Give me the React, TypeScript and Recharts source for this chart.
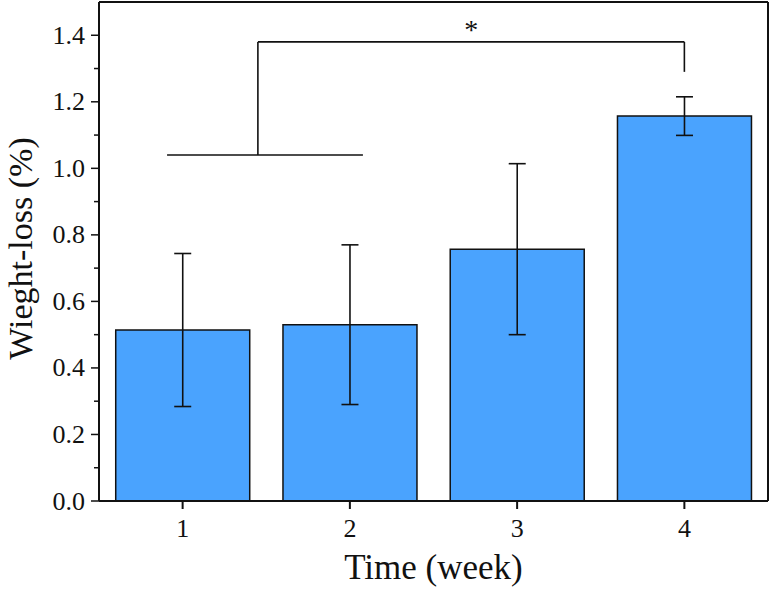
import React from "react";
import {
  BarChart,
  Bar,
  XAxis,
  YAxis,
  ErrorBar,
  ReferenceLine,
  ReferenceDot,
} from "recharts";

const weeks = [1, 2, 3, 4];
const weightLoss = [0.514, 0.53, 0.757, 1.157];
const stdDev = [0.23, 0.24, 0.257, 0.058];

const yMajorTicks = [0, 0.2, 0.4, 0.6, 0.8, 1.0, 1.2, 1.4];
const yMinorTicks = [0.1, 0.3, 0.5, 0.7, 0.9, 1.1, 1.3];

// significance bracket, in week / value units
const groupLineX = [0.907, 2.078];
const groupLineY = 1.04;
const bracketX = [1.45, 4.0];
const bracketTopY = 1.38;
const bracketEndY = 1.29;
const starX = 2.725;
const starY = 1.42;

const data = weeks.map((w, i) => ({
  week: w,
  value: weightLoss[i],
  err: stdDev[i],
}));

const FONT = "'Liberation Serif', 'Times New Roman', serif";
const INK = "#111";

const YTick = (props: any) => {
  const { x, y, payload } = props;
  const major = yMajorTicks.some((t) => Math.abs(t - payload.value) < 1e-6);
  return (
    <g>
      <line x1={x} y1={y} x2={x - (major ? 8 : 5)} y2={y} stroke={INK} strokeWidth={1.5} />
      {major && (
        <text
          x={x - 14}
          y={y}
          textAnchor="end"
          dominantBaseline="central"
          fontSize={26}
          fontFamily={FONT}
          fill={INK}
        >
          {payload.value.toFixed(1)}
        </text>
      )}
    </g>
  );
};

const YTitle = (props: any) => {
  const { viewBox } = props;
  const cx = 32;
  const cy = viewBox.y + viewBox.height / 2 - 3;
  return (
    <text
      x={cx}
      y={cy}
      transform={`rotate(-90, ${cx}, ${cy})`}
      textAnchor="middle"
      fontSize={34}
      fontFamily={FONT}
      fill={INK}
    >
      Wieght-loss (%)
    </text>
  );
};

export default function App() {
  const seg = (x1: number, y1: number, x2: number, y2: number) => (
    <ReferenceLine
      xAxisId="pos"
      segment={[
        { x: x1, y: y1 },
        { x: x2, y: y2 },
      ]}
      stroke={INK}
      strokeWidth={1.6}
      ifOverflow="visible"
    />
  );

  return (
    <div style={{ position: "absolute", left: 0, top: 0, background: "#fff" }}>
      <BarChart
        width={770}
        height={591}
        data={data}
        margin={{ top: 2, right: 2, bottom: 0, left: 0 }}
        barCategoryGap="10%"
      >
        <XAxis
          dataKey="week"
          height={90}
          stroke={INK}
          strokeWidth={2}
          tickSize={8}
          tickMargin={10}
          tick={{ fontSize: 26, fontFamily: FONT, fill: INK }}
          label={{
            value: "Time (week)",
            position: "insideBottom",
            offset: 12,
            fontSize: 35,
            fontFamily: FONT,
            fill: INK,
          }}
        />
        <XAxis
          xAxisId="pos"
          dataKey="week"
          type="number"
          domain={[0.5, 4.5]}
          allowDataOverflow
          hide
        />
        <YAxis
          width={99}
          domain={[0, 1.5]}
          ticks={[...yMajorTicks, ...yMinorTicks].sort((a, b) => a - b)}
          interval={0}
          stroke={INK}
          strokeWidth={2}
          tickLine={false}
          tickSize={0}
          tickMargin={0}
          tick={<YTick />}
          label={<YTitle />}
        />
        <ReferenceLine y={1.5} stroke={INK} strokeWidth={2} ifOverflow="visible" />
        <ReferenceLine xAxisId="pos" x={4.5} stroke={INK} strokeWidth={2} ifOverflow="visible" />
        <Bar
          dataKey="value"
          fill="#4aa3fe"
          stroke={INK}
          strokeWidth={1.5}
          isAnimationActive={false}
        >
          <ErrorBar dataKey="err" width={8.5} stroke={INK} strokeWidth={1.6} />
        </Bar>
        {seg(groupLineX[0], groupLineY, groupLineX[1], groupLineY)}
        {seg(bracketX[0], groupLineY, bracketX[0], bracketTopY)}
        {seg(bracketX[0], bracketTopY, bracketX[1], bracketTopY)}
        {seg(bracketX[1], bracketTopY, bracketX[1], bracketEndY)}
        <ReferenceDot
          xAxisId="pos"
          x={starX}
          y={starY}
          r={0}
          ifOverflow="visible"
          label={{
            value: "*",
            position: "center",
            fontSize: 28,
            fontFamily: FONT,
            fill: INK,
          }}
        />
      </BarChart>
    </div>
  );
}
